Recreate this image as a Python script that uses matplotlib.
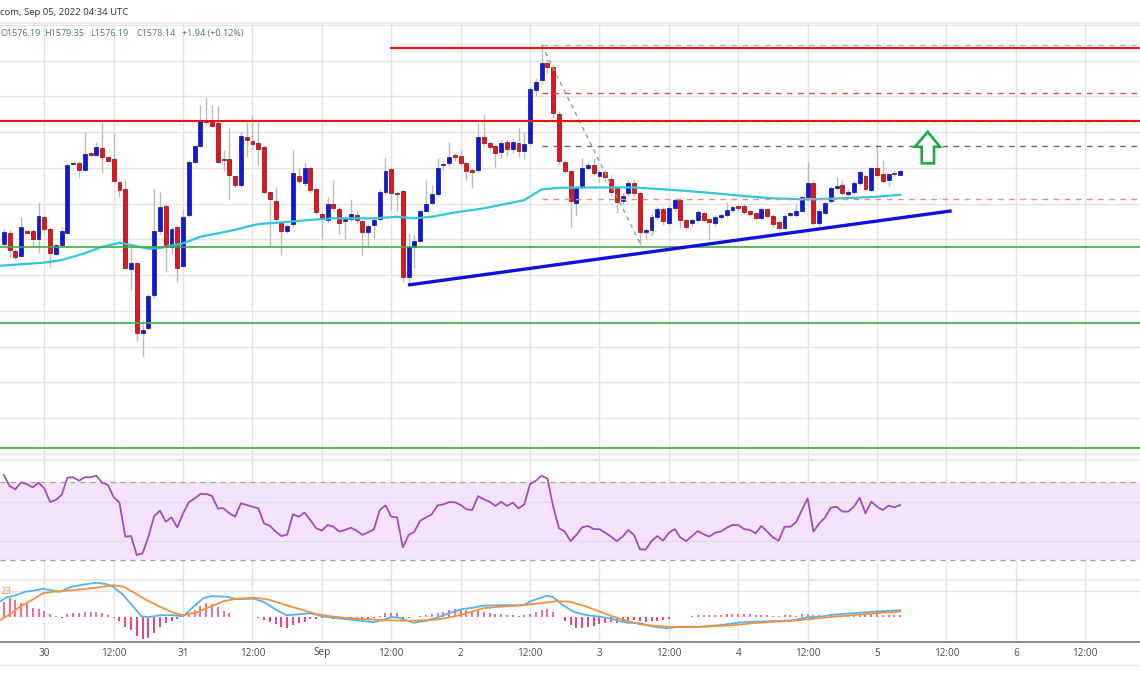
import matplotlib
matplotlib.use('Agg')
import matplotlib.pyplot as plt
from matplotlib import font_manager as fm
from matplotlib.patches import Polygon
import numpy as np

W, H = 1140, 694

# ---------------- data ----------------
hours = list(range(-7, 149))  # hours after Aug 30 00:00 UTC
opens = [1537.6, 1543.6, 1533.5, 1530.7, 1544.4, 1544.7, 1540.4, 1552.4, 1545.5, 1532.0, 1536.7, 1543.6,
         1581.9, 1582.8, 1578.5, 1588.0, 1587.3, 1591.2, 1586.2, 1585.0, 1571.8, 1568.2, 1523.3, 1526.5,
         1487.7, 1490.4, 1508.7, 1544.4, 1558.5, 1535.8, 1546.6, 1525.0, 1553.3, 1583.2, 1592.1, 1606.1,
         1606.1, 1604.8, 1584.6, 1584.9, 1575.3, 1570.3, 1597.4, 1595.1, 1594.0, 1591.8, 1566.6, 1561.3,
         1549.2, 1544.6, 1548.3, 1575.3, 1571.6, 1579.6, 1568.1, 1554.3, 1550.7, 1560.0, 1557.2, 1550.1,
         1551.6, 1553.7, 1550.1, 1544.2, 1547.9, 1551.6, 1566.2, 1579.1, 1565.6, 1567.1, 1519.0, 1535.8,
         1539.1, 1555.9, 1560.4, 1565.3, 1581.5, 1582.4, 1587.1, 1586.5, 1582.8, 1578.7, 1578.7, 1597.0,
         1593.6, 1592.1, 1589.0, 1594.6, 1590.3, 1593.6, 1589.5, 1593.6, 1623.5, 1629.0, 1638.4, 1636.5,
         1609.9, 1583.4, 1578.3, 1560.4, 1569.0, 1580.0, 1581.5, 1575.5, 1577.8, 1573.5, 1568.5, 1561.6,
         1565.7, 1571.6, 1565.7, 1544.2, 1545.1, 1552.2, 1556.7, 1549.3, 1557.3, 1561.9, 1550.7, 1548.9,
         1550.7, 1554.5, 1551.3, 1548.9, 1552.6, 1553.5, 1556.3, 1557.7, 1558.6, 1556.0, 1554.5, 1551.7,
         1556.7, 1553.0, 1549.4, 1546.1, 1553.7, 1553.5, 1555.8, 1563.8, 1571.3, 1548.9, 1554.8, 1561.4,
         1568.8, 1570.3, 1565.3, 1566.6, 1571.6, 1575.4, 1567.5, 1579.6, 1576.5, 1573.1, 1577.2, 1576.19]
highs = [1545.5, 1545.1, 1534.3, 1552.6, 1545.1, 1545.5, 1561.0, 1553.5, 1547.0, 1537.6, 1547.0, 1582.4,
         1583.4, 1583.9, 1600.1, 1589.0, 1594.6, 1605.4, 1586.5, 1599.2, 1572.7, 1573.1, 1535.8, 1527.4,
         1494.7, 1509.3, 1568.4, 1566.6, 1560.0, 1547.0, 1547.9, 1557.2, 1584.3, 1592.7, 1615.0, 1619.7,
         1615.0, 1614.5, 1590.0, 1603.0, 1576.0, 1600.0, 1605.7, 1609.5, 1605.7, 1593.0, 1567.0, 1569.4,
         1550.0, 1548.5, 1589.9, 1580.0, 1583.4, 1581.0, 1569.0, 1555.0, 1563.8, 1573.1, 1558.0, 1553.0,
         1562.8, 1555.0, 1551.0, 1548.5, 1552.0, 1568.0, 1585.2, 1580.5, 1567.0, 1568.0, 1543.6, 1542.3,
         1557.0, 1573.1, 1570.3, 1585.2, 1584.0, 1594.6, 1588.0, 1590.0, 1583.5, 1580.0, 1604.8, 1609.5,
         1595.0, 1593.0, 1595.5, 1596.0, 1596.0, 1602.0, 1600.0, 1625.0, 1630.0, 1648.6, 1641.0, 1638.0,
         1612.0, 1584.0, 1579.0, 1570.0, 1585.6, 1583.0, 1585.6, 1578.5, 1579.0, 1576.0, 1570.0, 1566.0,
         1573.0, 1573.5, 1567.0, 1546.5, 1554.0, 1558.0, 1558.0, 1559.0, 1563.0, 1563.0, 1551.5, 1552.0,
         1556.5, 1555.5, 1552.0, 1553.5, 1554.5, 1561.0, 1559.0, 1559.0, 1560.0, 1557.0, 1555.5, 1558.0,
         1557.5, 1554.0, 1550.5, 1554.0, 1555.0, 1560.1, 1564.5, 1583.4, 1573.1, 1557.0, 1561.5, 1570.0,
         1575.0, 1573.1, 1568.0, 1572.5, 1578.5, 1576.5, 1580.5, 1592.7, 1584.3, 1577.0, 1578.0, 1579.35]
lows = [1536.1, 1530.2, 1528.7, 1530.2, 1542.9, 1535.8, 1532.4, 1544.2, 1524.6, 1531.1, 1536.1, 1543.2,
        1581.3, 1574.0, 1578.1, 1586.5, 1586.9, 1577.2, 1583.4, 1572.2, 1563.8, 1523.7, 1511.5, 1483.2,
        1474.2, 1489.5, 1506.9, 1543.2, 1521.8, 1532.0, 1516.2, 1524.6, 1552.6, 1582.4, 1591.8, 1603.9,
        1602.9, 1582.4, 1578.0, 1561.9, 1569.0, 1569.5, 1586.2, 1590.0, 1581.5, 1566.0, 1535.8, 1550.0,
        1531.1, 1543.5, 1547.0, 1571.0, 1570.0, 1566.0, 1554.0, 1540.0, 1549.0, 1556.0, 1543.0, 1540.0,
        1550.0, 1549.0, 1531.1, 1534.9, 1540.0, 1550.5, 1565.0, 1556.3, 1556.0, 1516.2, 1515.3, 1523.7,
        1538.0, 1555.0, 1559.0, 1564.0, 1579.0, 1581.0, 1584.0, 1581.0, 1573.1, 1568.5, 1577.0, 1592.0,
        1590.0, 1580.6, 1585.0, 1586.5, 1588.0, 1586.0, 1585.0, 1592.0, 1620.0, 1627.0, 1633.0, 1608.0,
        1582.0, 1577.0, 1547.0, 1553.0, 1568.0, 1579.0, 1576.0, 1572.0, 1572.0, 1565.0, 1554.5, 1560.0,
        1564.0, 1564.0, 1537.0, 1540.0, 1542.0, 1551.0, 1548.0, 1548.0, 1556.0, 1546.1, 1545.0, 1547.5,
        1549.5, 1549.5, 1539.5, 1547.5, 1551.5, 1552.5, 1555.0, 1556.0, 1554.0, 1553.0, 1550.5, 1551.0,
        1552.0, 1547.0, 1545.0, 1545.0, 1552.5, 1552.5, 1555.0, 1562.5, 1547.5, 1547.5, 1554.0, 1560.5,
        1568.0, 1565.0, 1564.0, 1565.5, 1570.5, 1567.0, 1566.5, 1575.0, 1571.5, 1570.0, 1575.5, 1576.19]
closes = [1544.2, 1533.9, 1529.8, 1546.6, 1543.4, 1540.3, 1552.9, 1545.5, 1532.4, 1536.9, 1544.6, 1581.7,
          1582.2, 1578.7, 1587.8, 1587.3, 1591.4, 1585.8, 1583.9, 1572.7, 1567.5, 1524.2, 1526.5, 1487.7,
          1489.5, 1508.4, 1544.6, 1558.2, 1535.8, 1545.5, 1524.2, 1552.2, 1583.4, 1592.1, 1606.1, 1605.7,
          1603.5, 1583.0, 1584.3, 1575.9, 1570.3, 1597.9, 1595.5, 1593.2, 1590.3, 1566.6, 1562.3, 1551.1,
          1544.6, 1547.4, 1576.8, 1572.7, 1580.0, 1567.5, 1555.4, 1551.1, 1560.0, 1557.6, 1549.2, 1551.6,
          1554.3, 1550.7, 1544.2, 1547.4, 1550.7, 1566.6, 1578.1, 1566.0, 1565.2, 1519.0, 1535.8, 1538.9,
          1555.9, 1560.0, 1565.1, 1580.0, 1581.7, 1586.2, 1585.8, 1582.4, 1578.3, 1577.4, 1597.0, 1593.6,
          1591.8, 1588.0, 1594.0, 1590.3, 1594.6, 1589.5, 1593.3, 1623.8, 1628.1, 1638.4, 1636.5, 1610.4,
          1583.7, 1578.3, 1561.6, 1569.0, 1579.6, 1581.5, 1577.2, 1577.4, 1575.0, 1566.6, 1561.0, 1564.4,
          1571.6, 1565.7, 1544.2, 1545.1, 1552.6, 1556.7, 1550.4, 1557.3, 1562.0, 1550.7, 1546.6, 1550.7,
          1555.4, 1550.7, 1549.4, 1552.6, 1553.5, 1556.3, 1557.8, 1557.6, 1555.0, 1554.1, 1551.7, 1556.7,
          1553.0, 1548.5, 1546.1, 1553.0, 1553.8, 1555.8, 1563.4, 1571.3, 1548.9, 1555.8, 1560.4, 1568.8,
          1569.9, 1566.0, 1566.6, 1571.6, 1577.8, 1567.9, 1579.6, 1575.9, 1572.7, 1576.3, 1576.3, 1578.14]

# moving average (read at selected hours)
ma_hours = [-7.7, 0, 3, 7, 10, 13, 15, 18, 20, 24, 27, 32, 37, 40, 47, 50, 57, 61, 64, 67,
            71, 76, 83, 86, 89, 96, 102, 110, 115, 121, 126, 132, 138, 144, 148]
ma_values = [1525.2, 1526.9, 1528.4, 1532.1, 1535.8, 1538.0, 1536.8, 1534.7, 1535.1, 1537.7,
             1541.4, 1544.6, 1548.5, 1549.2, 1551.1, 1551.7, 1551.7, 1552.6, 1551.7, 1552.6,
             1555.0, 1557.3, 1561.9, 1567.9, 1568.8, 1569.0, 1569.0, 1567.3, 1566.0, 1564.2,
             1562.9, 1562.3, 1562.9, 1563.8, 1564.9]

rsi = [73.8, 68.1, 66.4, 70.0, 69.0, 67.4, 69.8, 66.9, 59.8, 60.9, 63.5, 72.4,
       72.6, 70.8, 72.6, 72.6, 73.4, 69.8, 68.6, 62.3, 59.5, 42.0, 42.3, 32.5,
       33.4, 42.0, 52.6, 55.4, 49.7, 51.9, 46.8, 54.0, 59.7, 61.7, 64.0, 64.0,
       62.9, 56.6, 56.6, 54.0, 52.3, 59.2, 58.3, 57.4, 56.6, 48.8, 47.6, 44.6,
       42.3, 43.0, 53.5, 52.3, 54.4, 50.6, 46.3, 45.1, 48.0, 47.1, 44.6, 45.4,
       46.6, 45.1, 42.9, 44.2, 45.8, 55.7, 58.1, 52.3, 51.9, 36.5, 42.8, 44.6,
       50.2, 51.9, 53.5, 58.1, 58.6, 59.8, 59.7, 58.3, 56.1, 55.7, 62.9, 61.2,
       60.0, 57.8, 60.0, 57.8, 59.5, 56.6, 58.6, 69.1, 70.8, 73.4, 72.0, 57.4,
       46.3, 44.6, 39.7, 42.8, 46.8, 47.5, 45.9, 45.8, 44.0, 42.0, 39.7, 42.0,
       45.4, 42.8, 35.4, 35.4, 39.7, 42.3, 39.9, 44.0, 45.9, 41.5, 39.7, 42.3,
       44.9, 43.2, 42.0, 44.0, 44.6, 46.6, 48.0, 48.0, 45.9, 45.4, 43.7, 47.5,
       44.6, 41.6, 39.9, 47.1, 47.1, 49.4, 55.7, 61.7, 44.6, 48.8, 51.8, 56.9,
       57.4, 54.9, 54.9, 57.4, 62.1, 54.0, 60.0, 57.4, 55.7, 58.0, 57.1, 58.3]

macd_hours = [-7.7, -6.5, -5.4, -3.3, -1.9, -0.2, 1.0, 2.7, 4.7, 6.7,
              9.0, 10.8, 11.9, 13.7, 15.4, 16.8, 18.0, 20.0, 22.0, 24.0,
              25.8, 27.5, 28.9, 31.5, 33.3, 36.1, 37.9, 40.2, 41.9, 44.2,
              45.9, 48.0, 50.0, 52.3, 54.6, 56.9, 58.6, 60.1, 61.5, 63.8,
              66.1, 68.4, 70.2, 72.2, 74.2, 75.9, 78.8, 82.8, 84.6, 86.9,
              88.0, 89.7, 91.5, 93.8, 96.1, 98.4, 100.7, 103.0, 105.3, 107.6,
              109.9, 113.4, 116.8, 120.0, 122.6, 126.1, 129.5, 132.1, 134.1, 136.4,
              139.9, 143.3, 148.0]
macd_line = [3.0, 3.9, 4.1, 5.0, 5.2, 5.6, 5.3, 5.0, 6.0, 6.4,
             6.8, 6.5, 6.0, 4.3, 2.0, 0.1, -0.1, 0.3, 0.3, 0.1,
             2.0, 3.7, 4.1, 4.0, 3.5, 3.6, 3.0, 1.3, 0.3, 0.5,
             0.7, 0.1, -0.2, -0.5, -0.8, -1.1, -0.7, 0.0, -0.3, -1.2,
             -0.8, 0.0, 0.8, 1.5, 1.8, 2.2, 2.3, 2.3, 3.3, 4.2,
             3.9, 2.3, 1.0, 0.3, 0.0, -0.5, -1.2, -1.3, -2.0, -2.3,
             -2.0, -2.0, -1.7, -1.2, -1.0, -0.9, -0.7, -0.1, 0.0, 0.4,
             0.7, 1.0, 1.3]
signal_hours = [-7.7, -5.9, -4.2, -1.9, -0.2, 1.6, 3.9, 6.7, 9.6, 11.9,
                13.7, 15.4, 17.7, 20.0, 22.3, 24.0, 26.4, 28.7, 31.0, 33.3,
                36.1, 38.5, 41.3, 44.2, 47.1, 50.0, 52.9, 55.8, 58.6, 61.5,
                63.8, 66.1, 68.4, 70.7, 73.0, 75.9, 78.8, 82.8, 85.7, 88.6,
                90.9, 93.8, 96.1, 98.4, 100.7, 103.0, 105.3, 107.6, 109.9, 112.2,
                115.7, 119.1, 122.6, 126.1, 129.5, 133.0, 136.4, 139.9, 143.3, 148.0]
signal_line = [-0.7, 0.5, 2.0, 3.5, 4.7, 5.0, 5.2, 5.5, 5.9, 6.3,
               6.0, 4.9, 3.3, 2.0, 0.8, 0.3, 0.9, 2.0, 3.1, 3.6,
               3.8, 3.5, 2.5, 1.5, 0.5, 0.0, -0.3, -0.5, -0.7, -0.8,
               -0.8, -0.7, -0.5, 0.0, 0.7, 1.7, 2.0, 2.3, 2.7, 3.1,
               3.0, 2.0, 1.0, 0.0, -0.8, -1.5, -1.8, -2.0, -2.1, -2.1,
               -1.9, -1.7, -1.3, -1.0, -0.8, -0.4, 0.0, 0.3, 0.7, 1.0]
histogram = [3.0, 3.7, 3.3, 2.8, 2.5, 1.8, 1.5, 1.2, 0.5, 0.1, -0.2, 0.5,
             0.7, 0.8, 0.9, 0.9, 0.9, 0.7, 0.3, -0.3, -0.8, -2.0, -2.7, -3.8,
             -4.4, -4.3, -3.2, -2.0, -1.3, -0.8, -0.5, 0.1, 0.5, 1.3, 2.1, 2.7,
             2.5, 2.0, 1.2, 0.7, 0.0, 0.0, -0.1, -0.1, -0.3, -0.7, -1.0, -1.5,
             -2.0, -2.3, -1.6, -1.3, -1.0, -0.5, -0.4, -0.3, -0.2, -0.4, -0.5, -0.7,
             -0.7, -0.6, -0.7, -0.4, -0.3, 0.1, 0.7, 0.7, 0.8, -0.5, -0.3, 0.0,
             0.1, 0.3, 0.5, 0.8, 1.0, 1.3, 1.5, 1.5, 1.3, 1.0, 1.1, 1.0,
             0.8, 0.5, 0.5, 0.3, 0.3, 0.2, 0.3, 0.5, 1.0, 1.3, 1.5, 0.9,
             0.0, -0.8, -1.7, -2.2, -2.3, -2.1, -1.9, -1.5, -1.2, -1.1, -1.2, -1.1,
             -0.9, -0.7, -0.8, -1.0, -0.9, -0.8, -0.7, -0.4, -0.1, -0.1, 0.0, 0.1,
             0.3, 0.3, 0.3, 0.3, 0.4, 0.5, 0.5, 0.6, 0.5, 0.5, 0.3, 0.4,
             0.3, 0.2, 0.2, 0.3, 0.3, 0.2, 0.5, 0.6, 0.3, 0.3, 0.3, 0.4,
             0.5, 0.3, 0.3, 0.4, 0.6, 0.3, 0.5, 0.5, 0.4, 0.4, 0.3, 0.3]

resistance_levels = [1647.0, 1606.3]
support_levels = [1535.8, 1493.2, 1423.2]
trend_hours = [62.9, 156.9]
trend_prices = [1514.4, 1555.9]
fib_levels = [1648.8, 1622.1, 1606.3, 1592.3, 1562.5]
fib_colors = ['#7cc4ea', '#ee4444', '#44aa66', '#8a5a5a', '#f08a8a']
fib_diag_hours = [86.0, 103.0]
fib_diag_prices = [1648.8, 1537.9]
tick_hours = list(range(0, 181, 12))
tick_labels = ['30', '12:00', '31', '12:00', 'Sep', '12:00', '2', '12:00',
               '3', '12:00', '4', '12:00', '5', '12:00', '6', '12:00']

# ---------------- layout ----------------
X0, DX = 44.3, 5.783           # pixel of hour 0, pixels per hour
XL = (-X0 / DX, (W - X0) / DX)
names = {f.name for f in fm.fontManager.ttflist}
axis_font = 'Liberation Sans Narrow' if 'Liberation Sans Narrow' in names else 'Open Sans'

fig = plt.figure(figsize=(W / 100, H / 100), dpi=100)
fig.patch.set_facecolor('white')

def rect(top, bottom):
    return [0, 1 - bottom / H, 1, (bottom - top) / H]

ax = fig.add_axes(rect(23, 460))
ax_r = fig.add_axes(rect(460, 579.5))
ax_m = fig.add_axes(rect(579.5, 641.7))
for a in (ax, ax_r, ax_m):
    a.set_xlim(*XL)
    a.set_xticks([]); a.set_yticks([])
    for s in a.spines.values():
        s.set_visible(False)
    for th in tick_hours:
        a.axvline(th, color='#e4e4e4', lw=1.0, zorder=0)

# main pane
ax.set_ylim(1416.5, 1661.0)
for p in range(1420, 1661, 20):
    ax.axhline(p, color='#e4e4e4', lw=1.0, zorder=0)

o = np.array(opens); c = np.array(closes)
hh = np.array(hours)
up = c >= o
body_bot = np.minimum(o, c)
body_h = np.maximum(np.abs(c - o), 0.8)
ax.vlines(hh, lows, highs, color='#bcbcbc', lw=1.0, zorder=2)
ax.bar(hh, body_h, bottom=body_bot, width=0.68,
       color=np.where(up, '#0b18e8', '#e8141a'),
       edgecolor=np.where(up, '#14146e', '#7a1010'), linewidth=0.5, zorder=3)

ax.plot(ma_hours, ma_values, color='#31c6e0', lw=1.6, zorder=4)

# fib retracement
for lv, col in zip(fib_levels, fib_colors):
    ax.plot([fib_diag_hours[0], XL[1]], [lv, lv], color=col, lw=1.0,
            dashes=(4, 4), zorder=4)
ax.plot(fib_diag_hours, fib_diag_prices, color='#9a9a9a', lw=1.0, dashes=(3, 3), zorder=4)

ax.plot([60, XL[1]], [resistance_levels[0]] * 2, color='#f01010', lw=1.5, zorder=5)
ax.axhline(resistance_levels[1], color='#f01010', lw=1.5, zorder=5)
for lv in support_levels:
    ax.axhline(lv, color='#3cae3c', lw=1.2, zorder=5)
ax.plot(trend_hours, trend_prices, color='#1010e0', lw=2.4, zorder=6, solid_capstyle='butt')

arrow = Polygon([(152.76, 1600.1), (154.88, 1591.75), (153.85, 1591.75), (153.85, 1582.5),
                 (151.72, 1582.5), (151.72, 1591.75), (150.56, 1591.75)], closed=True,
                facecolor='white', edgecolor='#1faa45', lw=1.9, zorder=7, joinstyle='miter')
ax.add_patch(arrow)

# RSI pane
ax_r.set_ylim(19.9, 81.5)
ax_r.axhspan(30, 70, color='#f3e4fc', zorder=0.5, lw=0)
for lv in (40, 60):
    ax_r.axhline(lv, color='#dedede', lw=1.0, zorder=0.6)
for lv in (30, 70):
    ax_r.axhline(lv, color='#a0a0a0', lw=0.9, dashes=(4, 4), zorder=1)
ax_r.plot(hours, rsi, color='#a54cbd', lw=1.3, zorder=3)

# MACD pane
ax_m.set_ylim(-5.0, 7.44)
ax_m.axhline(5.2, color='#e4e4e4', lw=1.0, zorder=0.5)
hist = np.array(histogram)
ax_m.vlines(hh, 0, hist, color=np.where(hist >= 0, '#f46a9a', '#ee3f7e'), lw=1.4, zorder=2)
ax_m.plot(macd_hours, macd_line, color='#52b4f2', lw=1.3, zorder=3)
ax_m.plot(signal_hours, signal_line, color='#f5923e', lw=1.3, zorder=3)

# separators and bottom axis line
def hline_px(y, color, lw):
    fig.add_artist(plt.Line2D([0, 1], [1 - y / H, 1 - y / H], color=color, lw=lw,
                              transform=fig.transFigure))
hline_px(23, '#e8e8e8', 1.2)
hline_px(460, '#e6e6e6', 1.2)
hline_px(579.5, '#e6e6e6', 1.2)
hline_px(641.7, '#8c8c8c', 1.4)
hline_px(664.5, '#f0f0f0', 1.0)

# x-axis labels
for th, lab in zip(tick_hours, tick_labels):
    xp = X0 + DX * th
    fig.text(xp / W, 1 - 653 / H, lab, ha='center', va='center', fontsize=7.2,
             family=axis_font, color='#4a4a4a')

# header / legend texts
fig.text(0, 1 - 12.5 / H, 'com, Sep 05, 2022 04:34 UTC', ha='left', va='center',
         fontsize=6.8, family='Open Sans', color='#333333')
leg_col = '#46806a'
for xp, s in [(0.5, 'O1576.19'), (44.0, 'H1579.35'), (90.5, 'L1576.19'),
              (136.5, 'C1578.14'), (182.0, '+1.94 (+0.12%)')]:
    fig.text(xp / W, 1 - 33.5 / H, s, ha='left', va='center', fontsize=6.5,
             family='Open Sans', color=leg_col)
fig.text(0.5 / W, 1 - 591.5 / H, '23', ha='left', va='center', fontsize=6.8,
         family='Open Sans', color='#f5923e')

fig.savefig('out.png', dpi=100, facecolor='white')
